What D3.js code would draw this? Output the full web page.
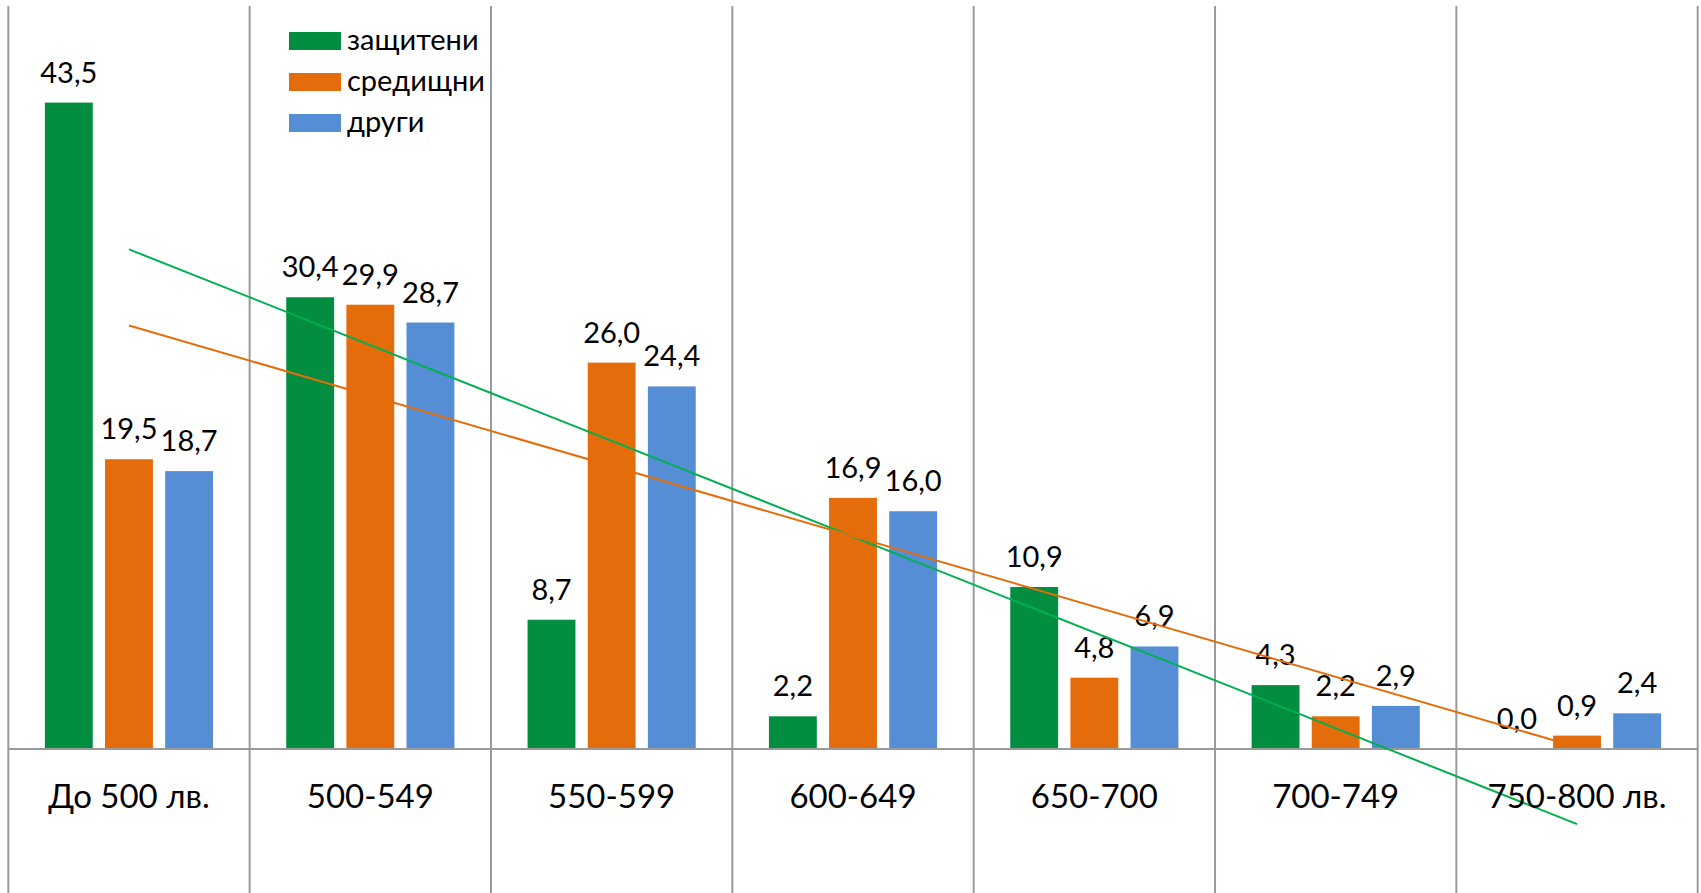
<!DOCTYPE html>
<html>
<head>
<meta charset="utf-8">
<script src="https://cdn.jsdelivr.net/npm/d3@7/dist/d3.min.js"></script>
<style>
  html, body { margin: 0; padding: 0; background: #ffffff; }
  svg { display: block; }
  text { font-family: Lato, "Open Sans", "Noto Sans", sans-serif; fill: #000; }
</style>
</head>
<body>
<svg id="chart" width="1701" height="893"></svg>
<script>
const categories = ["До 500 лв.", "500-549", "550-599", "600-649", "650-700", "700-749", "750-800 лв."];
const seriesNames = ["защитени", "средищни", "други"];
const zashtiteni = [43.5, 30.4, 8.7, 2.2, 10.9, 4.3, 0.0];
const sredishtni = [19.5, 29.9, 26.0, 16.9, 4.8, 2.2, 0.9];
const drugi = [18.7, 28.7, 24.4, 16.0, 6.9, 2.9, 2.4];
const seriesColors = ["#028D40", "#E46C0A", "#558ED5"];
const trendColors = ["#00B050", "#E46C0A"];
const yDomain = [0, 50];

const seriesValues = [zashtiteni, sredishtni, drugi];
const W = 1701, H = 893;
const plot = { left: 8.3, right: 1697.7, top: 6, bottom: 749 };

const svg = d3.select("#chart");

const x0 = d3.scaleBand().domain(categories).range([plot.left, plot.right]).paddingInner(0).paddingOuter(0);
const bw = x0.bandwidth();
const groupPad = 36.6;
const x1 = d3.scaleBand().domain(seriesNames).range([groupPad, bw - groupPad]).paddingInner(0.204).paddingOuter(0);
const y = d3.scaleLinear().domain(yDomain).range([plot.bottom, plot.top]);

const fmt = v => d3.format(".1f")(v).replace(".", ",");

// vertical grid lines at category boundaries
const bounds = categories.map(c => x0(c)).concat([plot.right]);
svg.append("g").selectAll("line").data(bounds).join("line")
  .attr("x1", d => d).attr("x2", d => d)
  .attr("y1", plot.top).attr("y2", H)
  .attr("stroke", "#9a9a9a").attr("stroke-width", 2);

// bars
const groups = svg.append("g").selectAll("g").data(categories).join("g")
  .attr("transform", c => `translate(${x0(c)},0)`);

groups.selectAll("rect").data((c, i) => seriesNames.map((s, j) => ({ s, j, v: seriesValues[j][i] })))
  .join("rect")
  .attr("x", d => x1(d.s))
  .attr("width", x1.bandwidth())
  .attr("y", d => y(d.v))
  .attr("height", d => y(0) - y(d.v))
  .attr("fill", d => seriesColors[d.j]);

// baseline
svg.append("line")
  .attr("x1", plot.left).attr("x2", plot.right)
  .attr("y1", y(0)).attr("y2", y(0))
  .attr("stroke", "#9a9a9a").attr("stroke-width", 2);

// linear trend lines (least squares over category index)
function trend(vals) {
  const n = vals.length;
  const xs = d3.range(1, n + 1);
  const mx = d3.mean(xs), my = d3.mean(vals);
  let sxy = 0, sxx = 0;
  xs.forEach((xv, i) => { sxy += (xv - mx) * (vals[i] - my); sxx += (xv - mx) * (xv - mx); });
  const b = sxy / sxx, a = my - b * mx;
  return [1, n].map(xv => ({ c: categories[xv - 1], v: a + b * xv }));
}
const line = d3.line().x(d => x0(d.c) + bw / 2).y(d => y(d.v));
[zashtiteni, sredishtni].forEach((vals, k) => {
  svg.append("path")
    .attr("d", line(trend(vals)))
    .attr("fill", "none")
    .attr("stroke", trendColors[k])
    .attr("stroke-width", 2);
});

// data labels
groups.selectAll("text.lbl").data((c, i) => seriesNames.map((s, j) => ({ s, j, v: seriesValues[j][i] })))
  .join("text")
  .attr("class", "lbl")
  .attr("x", d => x1(d.s) + x1.bandwidth() / 2)
  .attr("y", d => y(d.v) - 20)
  .attr("text-anchor", "middle")
  .attr("font-size", 29)
  .text(d => fmt(d.v));

// category labels
svg.append("g").selectAll("text").data(categories).join("text")
  .attr("x", c => x0(c) + bw / 2)
  .attr("y", 808)
  .attr("text-anchor", "middle")
  .attr("font-size", 33)
  .text(c => c);

// legend
const legend = svg.append("g").attr("transform", "translate(289,32)");
const li = legend.selectAll("g").data(seriesNames).join("g")
  .attr("transform", (d, i) => `translate(0,${i * 41})`);
li.append("rect").attr("width", 52).attr("height", 18).attr("fill", (d, i) => seriesColors[i]);
li.append("text").attr("x", 58).attr("y", 18).attr("font-size", 29).text(d => d);
</script>
</body>
</html>
